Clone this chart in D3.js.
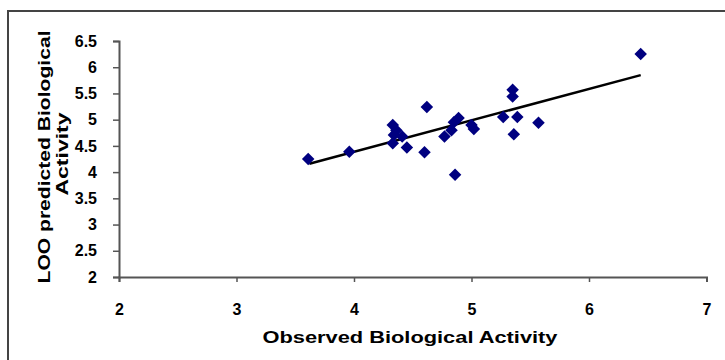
<!DOCTYPE html>
<html>
<head>
<meta charset="utf-8">
<script src="https://cdn.jsdelivr.net/npm/d3@7"></script>
<style>
  body { margin: 0; background: #fff; }
  svg text { font-family: "Liberation Sans", Arial, sans-serif; font-weight: bold; fill: #000; }
</style>
</head>
<body>
<div id="chartArea"></div>
<script>
// observed vs LOO predicted activity
const observed  = [3.61, 3.96, 4.33, 4.36, 4.34, 4.41, 4.33, 4.45, 4.62, 4.60, 4.86, 4.77, 4.83, 4.89, 4.85, 5.00, 5.02, 5.27, 5.35, 5.35, 5.39, 5.57, 5.36, 6.44];
const predicted = [4.25, 4.39, 4.90, 4.80, 4.71, 4.68, 4.55, 4.47, 5.24, 4.38, 3.95, 4.68, 4.80, 5.03, 4.95, 4.90, 4.82, 5.05, 5.57, 5.44, 5.05, 4.94, 4.72, 6.25];
// linear trend line end points
const trendX = [3.62, 6.44];
const trendY = [4.16, 5.85];
const xTicks = [2, 3, 4, 5, 6, 7];
const yTicks = [2, 2.5, 3, 3.5, 4, 4.5, 5, 5.5, 6, 6.5];

const width = 725, height = 360;
const svg = d3.select("#chartArea").append("svg")
              .attr("width", width)
              .attr("height", height);

// outer chart frame (runs off the right and bottom)
svg.append("rect")
   .attr("x", 8).attr("y", 11)
   .attr("width", 740).attr("height", 380)
   .attr("fill", "none")
   .attr("stroke", "#444")
   .attr("stroke-width", 2);

const x = d3.scaleLinear().domain([2, 7]).range([119, 706.5]);
const y = d3.scaleLinear().domain([2, 6.5]).range([277, 41]);

const xAxis = svg.append("g")
   .attr("transform", "translate(0," + y(2) + ")")
   .call(d3.axisBottom(x).tickValues(xTicks).tickSize(5).tickPadding(28).tickFormat(d3.format("d")));
const yAxis = svg.append("g")
   .attr("transform", "translate(" + x(2) + ",0)")
   .call(d3.axisLeft(y).tickValues(yTicks).tickSize(6).tickPadding(16).tickFormat(d => d));

[xAxis, yAxis].forEach(function(g) {
  g.select(".domain").attr("stroke", "#555").attr("stroke-width", 2);
  g.selectAll(".tick line").attr("stroke", "#555").attr("stroke-width", 1.5);
  g.selectAll(".tick text").style("font-size", "16px").style("font-family", "Liberation Sans, Arial, sans-serif");
});
xAxis.selectAll(".tick text").attr("dy", "0.3em");

// trend line
svg.append("line")
   .attr("x1", x(trendX[0])).attr("y1", y(trendY[0]))
   .attr("x2", x(trendX[1])).attr("y2", y(trendY[1]))
   .attr("stroke", "#000")
   .attr("stroke-width", 2.5);

// diamond markers
const diamond = d3.symbol().type(d3.symbolDiamond2).size(100);
svg.append("g")
   .selectAll("path")
   .data(observed)
   .enter().append("path")
     .attr("d", diamond)
     .attr("transform", (d, i) => "translate(" + x(d) + "," + y(predicted[i]) + ")")
     .attr("fill", "#000080");

// axis titles
svg.append("text")
   .attr("x", 410).attr("y", 343)
   .attr("text-anchor", "middle")
   .attr("textLength", 295).attr("lengthAdjust", "spacingAndGlyphs")
   .style("font-size", "17px")
   .text("Observed Biological Activity");

const yTitle = svg.append("text")
   .attr("transform", "translate(50,157) rotate(-90)")
   .attr("text-anchor", "middle")
   .style("font-size", "17px");
yTitle.append("tspan")
   .attr("x", 0).attr("y", 0)
   .attr("textLength", 253).attr("lengthAdjust", "spacingAndGlyphs")
   .text("LOO predicted Biological");
yTitle.append("tspan")
   .attr("x", 3).attr("y", 18)
   .attr("textLength", 83).attr("lengthAdjust", "spacingAndGlyphs")
   .text("Activity");
</script>
</body>
</html>
